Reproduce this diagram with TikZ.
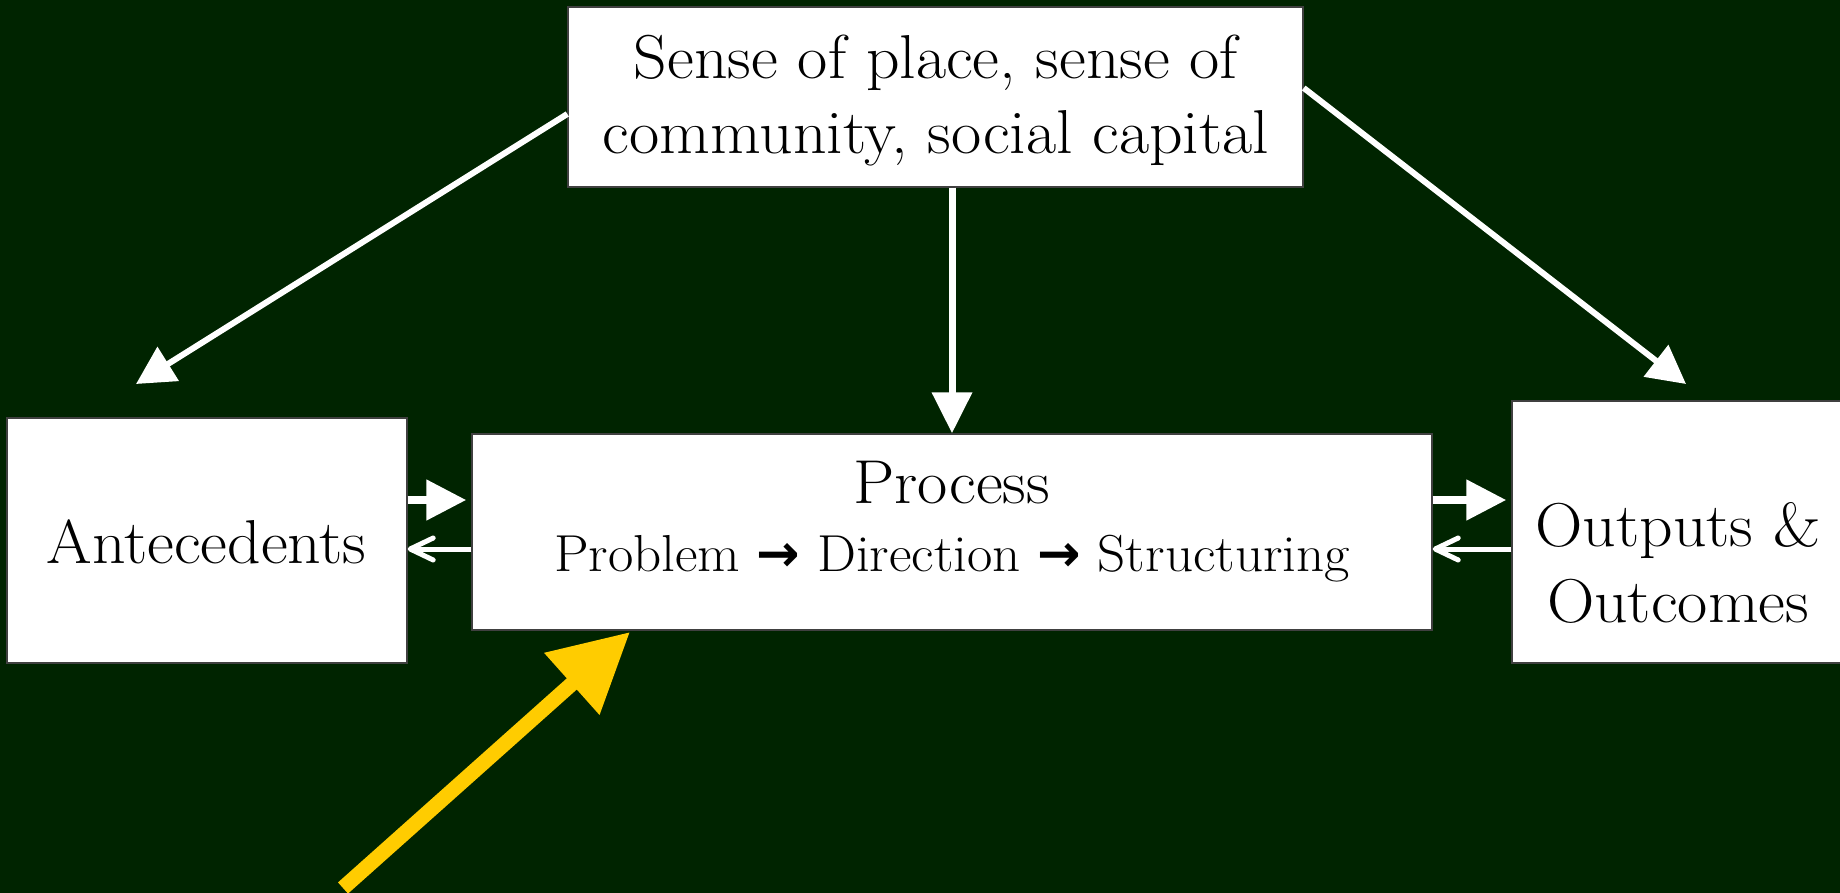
\documentclass[tikz,border=0pt]{standalone}
\usepackage{fontspec}
\setmainfont{Latin Modern Roman}[FakeStretch=1.06]
\newfontfamily\arrowfont{DejaVu Sans}
\usetikzlibrary{arrows.meta}
\definecolor{bggreen}{RGB}{0,36,0}
\definecolor{arrowyellow}{RGB}{255,204,0}
\begin{document}
\begin{tikzpicture}[x=0.5pt,y=-0.5pt,
  box/.style={draw=black!75, line width=0.7pt, fill=white, inner sep=0pt},
  bigtext/.style={inner sep=0pt, anchor=base, font=\fontsize{31pt}{37.5pt}\selectfont},
  smalltext/.style={inner sep=0pt, anchor=base, font=\fontsize{26pt}{30pt}\selectfont},
  thickarrow/.style={draw=white, line width=4pt, -{Triangle[length=20pt,width=19.5pt]}, shorten >=2.5pt},
  diagarrow/.style={draw=white, line width=3pt, -{Triangle[length=19pt,width=19.5pt]}},
  vertarrow/.style={draw=white, line width=3.5pt, -{Triangle[length=20.5pt,width=19.5pt]}},
  thinarrow/.style={draw=white, line width=2.5pt, -{Straight Barb[length=11.5pt,width=11pt,round]}},
  yellowarrow/.style={draw=arrowyellow, line width=7.5pt, -{Triangle[length=39pt,width=39.5pt]}}
]
\useasboundingbox (0,0) rectangle (1840,893);
\fill[bggreen] (0,0) rectangle (1840,893);
\clip (0,0) rectangle (1840,893);

% boxes
\node[box, minimum width=367.5pt, minimum height=90pt] (top) at (935.5,97) {};
\node[box, minimum width=200pt, minimum height=122.5pt] (ante) at (207,540.5) {};
\node[box, minimum width=480pt, minimum height=98pt] (proc) at (952,532) {};
\node[box, minimum width=166.5pt, minimum height=131pt] (out) at (1678.5,532) {};

% texts
\node[bigtext] (t1) at (936,79) {Sense of place, sense of};
\node[bigtext] (t2) at (936,154) {community, social capital};
\node[bigtext] (ta) at (206.5,563) {Antecedents};
\node[bigtext] (tp) at (951.5,503) {Process};
\node[smalltext] (ts) at (952,571) {Problem {\arrowfont\bfseries →} Direction {\arrowfont\bfseries →} Structuring};
\node[bigtext] (to1) at (1678,546) {Outputs \&};
\node[bigtext] (to2) at (1678,622) {Outcomes};

% connectors from the top box
\coordinate (anteTip) at (136,384);
\coordinate (outTip) at (1686,384);
\draw[diagarrow] ([yshift=-8.5pt]top.west) -- (anteTip);
\draw[diagarrow] ([yshift=4.5pt]top.east) -- (outTip);
\draw[vertarrow] (top.south -| proc.north) -- (proc.north);

% horizontal connectors
\coordinate (a1) at ([yshift=20.25pt]ante.east);
\coordinate (a2) at ([yshift=-4.25pt]ante.east);
\draw[thickarrow] (a1) -- (a1 -| proc.west);
\draw[thinarrow] (a2 -| proc.west) -- (a2);
\coordinate (b1) at ([yshift=16pt]proc.east);
\coordinate (b2) at ([yshift=-8.5pt]proc.east);
\draw[thickarrow] (b1) -- (b1 -| out.west);
\draw[thinarrow] (b2 -| out.west) -- (b2);

% yellow arrow
\coordinate (yTail) at (343,888);
\coordinate (yTip) at (630,632);
\draw[yellowarrow] (yTail) -- (yTip);
\end{tikzpicture}
\end{document}
